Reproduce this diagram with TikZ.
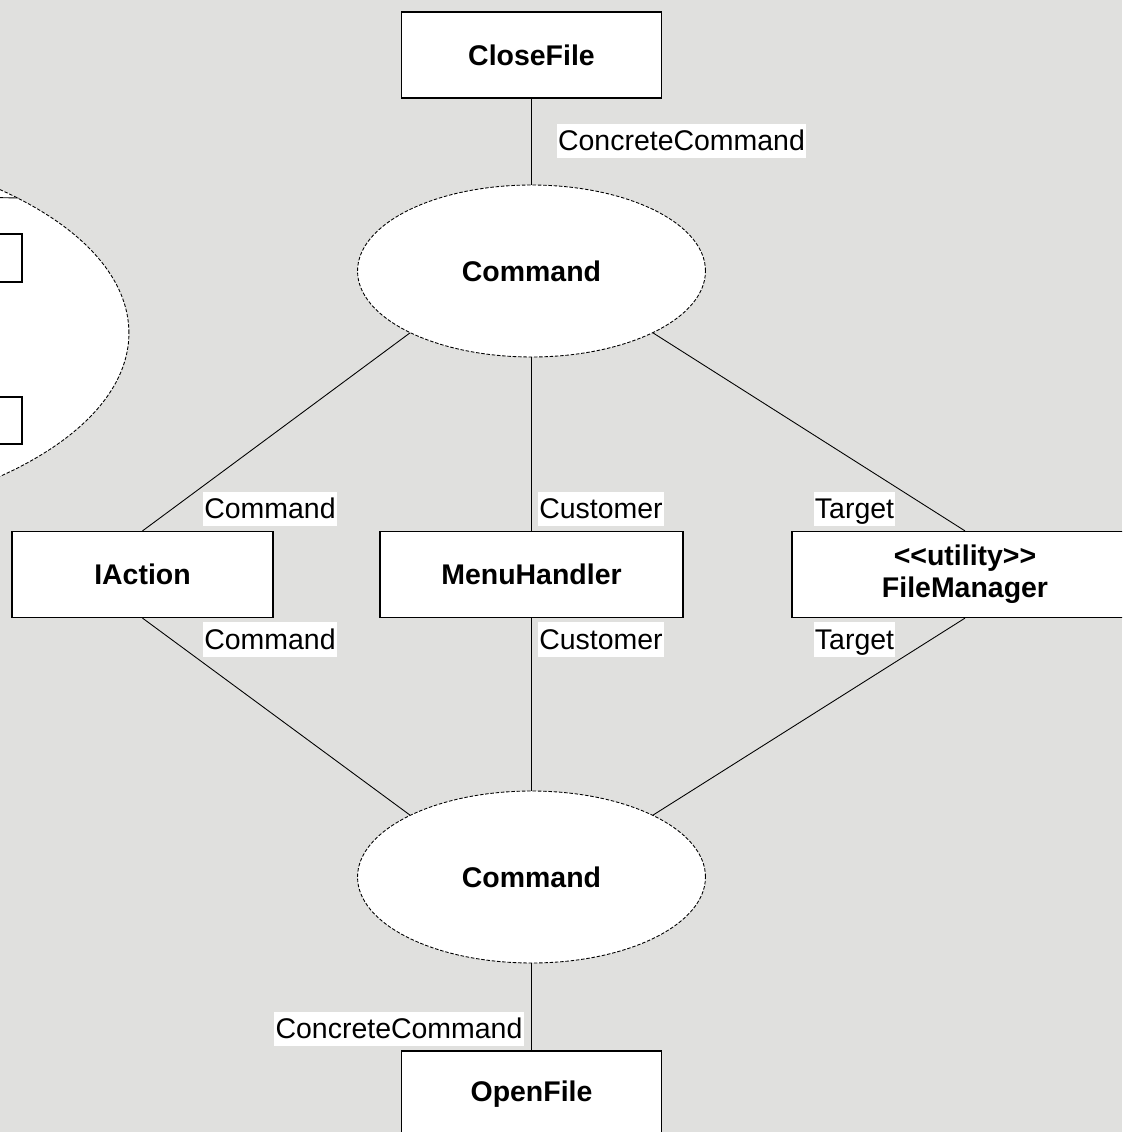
\documentclass[tikz,border=0pt]{standalone}
\usepackage{fontspec}
\setmainfont{Liberation Sans}
\usetikzlibrary{shapes.geometric}
\definecolor{paper}{RGB}{224,224,222}
\tikzset{
  klass/.style={draw=black, line width=0.7pt, fill=white, inner sep=0pt,
    minimum width=5.2cm, minimum height=1.72cm, font=\bfseries, align=center},
  collab/.style={ellipse, draw=black, line width=0.5pt, dash pattern=on 2pt off 1pt,
    fill=white, inner sep=0pt, minimum width=6.96cm, minimum height=3.44cm, font=\bfseries},
  role/.style={fill=white, inner sep=0.8pt, text height=0.9em, text depth=0.22em},
  link/.style={line width=0.5pt}
}

\begin{document}
\begin{tikzpicture}[x=0.02cm, y=-0.02cm]

  \fontsize{16.2}{18.2}\selectfont

  \useasboundingbox (0,0) rectangle (1122,1132);
  \clip (0,0) rectangle (1122,1132);
  \fill[paper] (0,0) rectangle (1122,1132);

  % cut-off collaboration on the left
  \node[collab, minimum width=16cm, minimum height=7.8cm] (side) at (-271,333) {};
  \node[klass, minimum width=4cm, minimum height=0.96cm] (sideA) at (-78,258) {};
  \node[klass, minimum width=4cm, minimum height=0.94cm] (sideB) at (-78,420.5) {};
  \coordinate (offA) at (-30,197);
  \draw[link] (offA) -- (side.25);

  \node[klass] (close) at (531.5,55) {CloseFile};
  \node[collab] (cmdA) at (531.5,271) {Command};
  \node[klass, minimum width=5.22cm] (iaction) at (142.5,574.5) {IAction};
  \node[klass, minimum width=6.06cm] (menu) at (531.5,574.5) {MenuHandler};
  \node[klass, minimum width=6.92cm] (fileman) at (965,574.5) {{<}{<}utility{>}{>}\\FileManager};
  \node[collab] (cmdB) at (531.5,877) {Command};
  \node[klass] (open) at (531.5,1094) {OpenFile};

  \draw[link] (close.south) -- (cmdA.north); %% CloseFile-Command
  \draw[link] (cmdA.207) -- (iaction.north);
  \draw[link] (cmdA.south) -- (menu.north);
  \draw[link] (cmdA.333) -- (fileman.north);

  \draw[link] (iaction.south) -- (cmdB.153);
  \draw[link] (menu.south) -- (cmdB.north);
  \draw[link] (fileman.south) -- (cmdB.27);
  \draw[link] (cmdB.south) -- (open.north); %% Command-OpenFile

  % role names
  \node[role] (rcc1) at (681.5,141) {ConcreteCommand};
  \node[role] (rcmd1) at (270,509) {Command};
  \node[role] (rcus1) at (601,509) {Customer};
  \node[role] (rtgt1) at (854.5,509) {Target};
  \node[role] (rcmd2) at (270,639.5) {Command};
  \node[role] (rcus2) at (601,639.5) {Customer};
  \node[role] (rtgt2) at (854.5,639.5) {Target};
  \node[role] (rcc2) at (399,1029) {ConcreteCommand};

\end{tikzpicture}
\end{document}
